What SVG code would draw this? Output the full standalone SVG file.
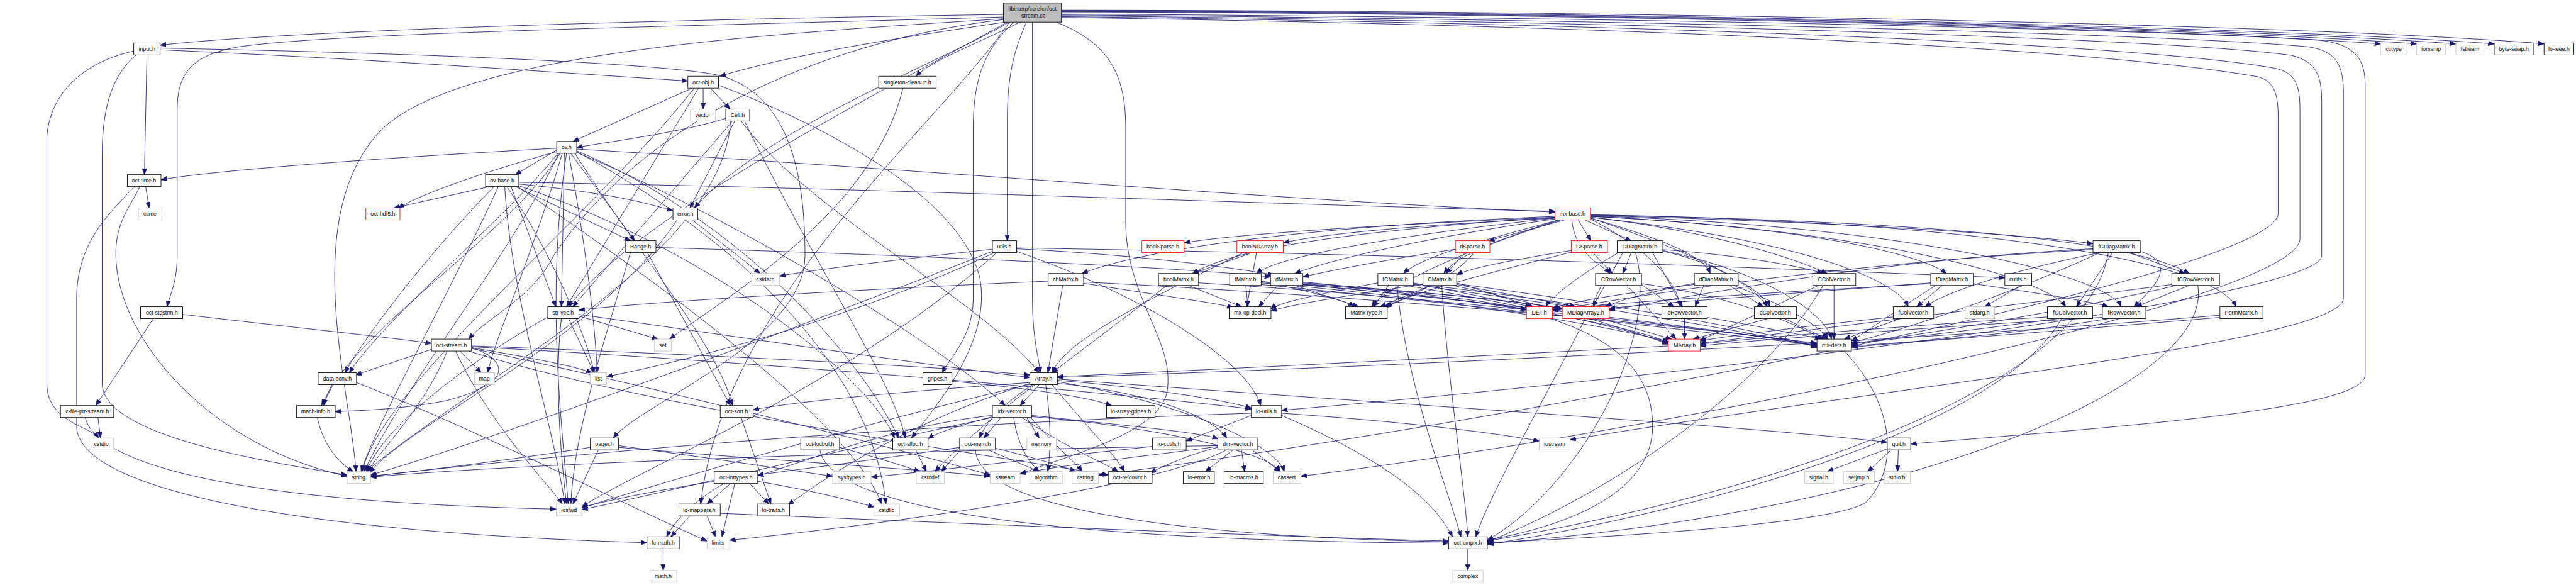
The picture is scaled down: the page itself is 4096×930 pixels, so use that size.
<svg xmlns="http://www.w3.org/2000/svg" width="4096" height="930" viewBox="0 0 4096 930">
<defs>
<marker id="a" markerUnits="userSpaceOnUse" markerWidth="16" markerHeight="12" refX="14" refY="5.5" orient="auto"><path d="M0,0 L14,5.5 L0,11 z" fill="#191970" stroke="#191970"/></marker>
</defs>
<style>
.e path{fill:none;stroke:#191970;stroke-width:1.3;marker-end:url(#a)}
.n rect{fill:#fff;stroke:#000;stroke-width:1.3}
.n.g rect{stroke:#bfbfbf}
.n.r rect{stroke:#ff0000}
.n.top rect{fill:#bfbfbf}
text{font-family:"Liberation Sans",Arial,sans-serif;font-size:13px;text-anchor:middle;fill:#000}
</style>
<rect width="4096" height="930" fill="#fff"/>
<g transform="scale(0.67725)">
<g id="edges" class="e">
<path d="M2356,34 C1600,45 700,70 376,106"/>
<path d="M2356,40 C1700,60 800,75 560,110 C450,130 416,170 416,260 L416,600 C416,660 400,690 392,720"/>
<path d="M2360,52 C2100,90 1850,130 1690,179"/>
<path d="M2395,52 C2300,100 2190,140 2150,179"/>
<path d="M2380,52 C2320,110 2285,170 2285,300 L2285,700 C2285,790 2230,840 2212,875"/>
<path d="M2410,52 C2380,120 2365,180 2365,280 L2365,565"/>
<path d="M2424,52 L2424,700 C2424,800 2440,840 2442,875"/>
<path d="M2480,52 C2600,100 2643,170 2643,300 L2643,520 C2643,700 2760,800 2740,920 C2720,1020 2500,1070 2395,1113"/>
<path d="M2492,28 C3500,30 5000,60 5589,103"/>
<path d="M2492,27 C3500,28 5100,60 5674,103"/>
<path d="M2492,26 C3500,26 5200,60 5766,103"/>
<path d="M2492,25 C3600,25 5300,60 5856,103"/>
<path d="M2492,24 C3700,24 5400,55 5973,103"/>
<path d="M2492,33 C3800,40 5100,70 5450,95 C5530,105 5553,140 5553,200 L5553,880 C5553,960 5000,1000 4486,1042"/>
<path d="M2492,35 C3800,45 5100,80 5420,110 C5490,120 5502,160 5502,220 L5502,700 C5502,800 4500,900 3686,1032"/>
<path d="M2492,37 C3800,50 5100,90 5380,130 C5440,145 5451,180 5451,240 L5451,600 C5451,700 4000,880 3009,963"/>
<path d="M2492,39 C3800,55 5000,100 5340,160 C5390,170 5400,200 5400,260 L5400,560 C5400,700 4000,1000 3054,1118"/>
<path d="M2492,41 C3800,60 4900,110 5300,180 C5340,190 5349,220 5349,280 L5349,500 C5349,650 3500,1000 2579,1115"/>
<path d="M2370,52 C2200,300 1700,700 1645,1183"/>
<path d="M2356,44 C1800,80 1100,120 900,300 C700,500 820,900 836,1107"/>
<path d="M2356,46 C1900,100 1500,300 1300,600 C1250,700 1150,740 1100,796"/>
<path d="M2365,52 C2100,200 1500,500 1335,720"/>
<path d="M2370,52 C2200,150 1800,300 1630,488"/>
<path d="M345,129 L339,410"/>
<path d="M314,120 C220,140 120,200 110,320 L110,900 C110,990 210,1000 232,1028"/>
<path d="M320,129 C270,170 240,240 240,360 L240,900 C240,1020 600,1080 815,1115"/>
<path d="M376,117 C900,140 1300,170 1615,190"/>
<path d="M376,113 C1000,125 1600,150 1700,180 C1850,230 1890,400 1890,600 C1890,800 1500,950 1440,1028"/>
<path d="M342,438 L350,488"/>
<path d="M328,438 C310,480 270,520 272,600 C275,800 500,1050 815,1118"/>
<path d="M315,438 C270,490 180,560 180,700 L180,1000 C180,1150 700,1250 1519,1274"/>
<path d="M1651,207 L1651,256"/>
<path d="M1668,207 L1714,256"/>
<path d="M1625,207 L1345,332"/>
<path d="M1640,207 L1330,720"/>
<path d="M1687,200 C1900,280 2250,450 2300,650 C2330,800 2200,950 2140,1028"/>
<path d="M1630,207 C1400,500 900,900 850,1107"/>
<path d="M2120,207 C2050,500 1700,700 1572,796"/>
<path d="M1704,278 C1600,310 1450,330 1354,346"/>
<path d="M1740,284 C1900,500 2300,700 2440,875"/>
<path d="M1748,284 C1900,600 2100,900 2125,1028"/>
<path d="M1720,284 L1345,720"/>
<path d="M1715,284 C1700,600 1100,900 860,1107"/>
<path d="M1725,284 L1620,488"/>
<path d="M1307,352 L1210,410"/>
<path d="M1307,348 C900,370 500,400 378,422"/>
<path d="M1340,360 L1490,565"/>
<path d="M1310,360 C1200,500 900,750 820,875"/>
<path d="M1354,358 C1700,500 2200,800 2360,952"/>
<path d="M1315,360 C1200,550 800,800 760,952"/>
<path d="M1354,350 C2200,400 3000,470 3651,498"/>
<path d="M1354,354 C1700,500 2000,800 2110,1028"/>
<path d="M1307,356 C1150,400 1000,450 935,488"/>
<path d="M1350,360 C1500,600 1680,800 1720,952"/>
<path d="M1325,360 L1318,720"/>
<path d="M1312,360 C1200,600 950,900 855,1107"/>
<path d="M1335,360 C1380,600 1400,800 1402,875"/>
<path d="M1320,360 C1250,600 1160,800 1145,875"/>
<path d="M1330,360 C1280,700 1320,1000 1334,1183"/>
<path d="M1354,356 C1800,600 2050,900 2080,1183"/>
<path d="M1150,438 L925,488"/>
<path d="M1210,438 L1480,565"/>
<path d="M1160,438 C1000,600 850,800 810,875"/>
<path d="M1218,428 C2000,440 3000,480 3651,496"/>
<path d="M1200,438 L1305,720"/>
<path d="M1218,432 C1400,450 1500,470 1580,495"/>
<path d="M1170,438 C1050,700 880,1000 848,1107"/>
<path d="M1190,438 C1300,600 1380,800 1395,875"/>
<path d="M1185,438 C1200,700 1300,1000 1326,1183"/>
<path d="M1215,438 C1600,700 2000,1000 2070,1183"/>
<path d="M1218,436 C1700,600 2050,900 2100,1028"/>
<path d="M1625,516 L1785,642"/>
<path d="M1590,516 C1400,800 950,1000 868,1110"/>
<path d="M1540,581 C2200,600 2800,630 2983,650"/>
<path d="M1520,593 L1715,952"/>
<path d="M1480,593 C1420,800 1350,1000 1340,1183"/>
<path d="M2330,585 C2100,610 1900,635 1830,648"/>
<path d="M2387,584 C2700,600 2900,630 2990,645"/>
<path d="M2387,590 C2700,700 2930,850 2960,952"/>
<path d="M2387,582 C3500,600 4400,640 4707,652"/>
<path d="M2335,593 C2000,750 1600,850 1424,884"/>
<path d="M2330,590 C1800,800 1100,1050 870,1115"/>
<path d="M2340,593 C2000,900 1500,1100 1366,1190"/>
<path d="M2235,895 C2400,910 2550,930 2610,952"/>
<path d="M3651,510 C3200,530 2900,550 2780,570"/>
<path d="M3651,512 C3300,530 3100,550 3013,570"/>
<path d="M3675,516 L3495,565"/>
<path d="M3705,516 L3735,565"/>
<path d="M3720,516 L3830,565"/>
<path d="M3734,506 C4300,520 4750,550 4914,572"/>
<path d="M3651,508 C3100,530 2700,580 2540,642"/>
<path d="M3651,510 C3200,540 2900,580 2800,642"/>
<path d="M3651,512 C3300,550 3000,600 2950,642"/>
<path d="M3651,514 C3400,550 3150,600 3040,642"/>
<path d="M3660,516 C3500,560 3340,600 3295,642"/>
<path d="M3665,516 C3500,570 3420,600 3390,642"/>
<path d="M3690,516 C3700,600 3760,620 3780,642"/>
<path d="M3734,512 C3900,560 4000,600 4015,642"/>
<path d="M3734,510 C4000,540 4200,600 4290,642"/>
<path d="M3734,508 C4200,530 4500,590 4570,642"/>
<path d="M3734,504 C4500,520 5000,560 5140,642"/>
<path d="M3660,516 C3400,600 3250,680 3220,720"/>
<path d="M3734,514 C3900,600 3940,680 3945,720"/>
<path d="M3734,512 C4000,600 4140,680 4155,720"/>
<path d="M3734,510 C4200,560 4450,650 4480,720"/>
<path d="M3734,508 C4400,540 4800,650 4850,720"/>
<path d="M3734,507 C4500,530 4950,650 4980,720"/>
<path d="M3734,505 C4700,520 5200,620 5250,720"/>
<path d="M2940,593 L2800,642"/>
<path d="M2950,593 C2940,650 2930,700 2928,720"/>
<path d="M2920,593 C2700,700 2500,800 2470,875"/>
<path d="M2495,670 L2460,875"/>
<path d="M2461,660 C2000,680 1500,710 1359,728"/>
<path d="M2544,665 C2700,690 2850,710 2895,722"/>
<path d="M2544,662 C3300,700 4000,770 4266,806"/>
<path d="M2790,670 L2915,720"/>
<path d="M2740,670 L2470,875"/>
<path d="M2814,664 C3400,700 4000,770 4266,808"/>
<path d="M2925,670 L2930,720"/>
<path d="M2961,664 C3400,700 3800,770 3917,802"/>
<path d="M2961,662 C3300,680 3550,705 3668,724"/>
<path d="M2961,660 C3050,680 3150,700 3180,720"/>
<path d="M2961,668 C3500,720 4000,780 4266,810"/>
<path d="M2961,661 C3200,680 3450,705 3584,726"/>
<path d="M3000,670 L2955,720"/>
<path d="M3059,666 C3500,700 3850,770 3917,804"/>
<path d="M3059,664 C3400,690 3600,710 3668,726"/>
<path d="M3040,670 L3190,720"/>
<path d="M3059,668 C3600,720 4100,780 4266,812"/>
<path d="M3059,662 C3300,685 3500,705 3584,728"/>
<path d="M3235,664 C3100,690 3000,710 2984,726"/>
<path d="M3300,670 C3600,720 3850,780 3917,806"/>
<path d="M3318,668 L3690,720"/>
<path d="M3260,670 L3225,720"/>
<path d="M3318,666 C3800,720 4150,790 4266,814"/>
<path d="M3318,664 L3595,720"/>
<path d="M3280,670 C3300,900 3400,1150 3430,1260"/>
<path d="M3341,666 C3200,690 3050,710 2984,730"/>
<path d="M3410,670 C3700,730 3870,790 3917,808"/>
<path d="M3420,668 L3700,720"/>
<path d="M3360,670 L3240,720"/>
<path d="M3420,666 C3900,730 4200,790 4266,816"/>
<path d="M3420,664 L3600,720"/>
<path d="M3385,670 C3400,900 3440,1150 3446,1260"/>
<path d="M3440,593 L3395,642"/>
<path d="M3417,585 C3250,610 3100,640 3059,650"/>
<path d="M3460,593 C3420,650 3300,700 3250,720"/>
<path d="M3689,588 C3550,610 3450,630 3420,645"/>
<path d="M3740,593 L3785,642"/>
<path d="M3689,592 C3500,640 3300,690 3255,722"/>
<path d="M3820,670 L3935,796"/>
<path d="M3854,666 C4100,700 4230,770 4280,796"/>
<path d="M3760,670 C3650,900 3500,1150 3465,1260"/>
<path d="M3854,668 L3930,720"/>
<path d="M3830,593 L3810,642"/>
<path d="M3810,593 C3780,650 3750,700 3740,720"/>
<path d="M3880,593 L3950,720"/>
<path d="M3904,590 C4050,620 4130,690 4150,720"/>
<path d="M3904,586 C4100,600 4250,630 4280,642"/>
<path d="M3904,588 C4150,640 4290,740 4300,796"/>
<path d="M3800,593 C3700,650 3640,700 3630,720"/>
<path d="M3840,593 C3900,800 3700,1150 3492,1268"/>
<path d="M3978,665 C3850,690 3790,710 3770,720"/>
<path d="M4000,670 L3980,720"/>
<path d="M4060,670 L4140,720"/>
<path d="M4070,670 C4200,720 4280,770 4290,796"/>
<path d="M3978,668 C3800,690 3680,710 3645,724"/>
<path d="M4270,670 L3990,800"/>
<path d="M4306,670 L4306,796"/>
<path d="M4280,670 C4150,900 3800,1150 3492,1272"/>
<path d="M4533,664 C4200,690 3900,710 3778,724"/>
<path d="M4633,666 C4800,690 4920,710 4950,720"/>
<path d="M4560,670 L4500,720"/>
<path d="M4545,670 C4450,730 4380,780 4347,800"/>
<path d="M4533,666 C4100,690 3800,710 3645,728"/>
<path d="M4745,670 L4660,720"/>
<path d="M5140,670 L5015,720"/>
<path d="M5099,668 C4700,720 4200,780 3992,806"/>
<path d="M5110,670 C4900,720 4500,790 4347,806"/>
<path d="M5160,670 C5200,900 4500,1200 3492,1276"/>
<path d="M5000,593 L5130,642"/>
<path d="M5025,590 C5120,620 5050,680 5010,720"/>
<path d="M4960,593 L4875,720"/>
<path d="M4930,593 C4700,640 4560,690 4520,720"/>
<path d="M4914,584 C4400,610 3950,700 3778,728"/>
<path d="M4930,593 C4700,700 4450,780 4347,804"/>
<path d="M4914,586 C4300,620 3800,700 3645,730"/>
<path d="M4950,593 C4900,900 4200,1150 3492,1270"/>
<path d="M3955,748 L3955,796"/>
<path d="M4008,745 C4150,770 4250,790 4275,796"/>
<path d="M4150,748 L3975,796"/>
<path d="M4190,748 L4290,796"/>
<path d="M4445,744 C4200,770 4050,790 3992,800"/>
<path d="M4460,748 L4330,796"/>
<path d="M4807,744 C4400,770 4100,795 3992,808"/>
<path d="M4830,748 C4600,780 4400,800 4347,808"/>
<path d="M4840,748 C4700,1000 4000,1200 3492,1278"/>
<path d="M4936,745 C4500,770 4100,800 3992,812"/>
<path d="M4950,748 C4700,790 4450,805 4347,812"/>
<path d="M5212,740 C4500,800 3300,860 2483,886"/>
<path d="M5212,745 C4800,780 4450,805 4347,815"/>
<path d="M3917,812 C3400,840 2800,870 2483,884"/>
<path d="M3760,748 L3925,796"/>
<path d="M3640,748 C3800,800 3880,880 3880,1000 C3880,1150 3700,1230 3492,1268"/>
<path d="M4330,824 C4450,950 4460,1100 4380,1180 C4300,1230 3800,1260 3492,1274"/>
<path d="M1318,748 C1300,900 1320,1100 1330,1183"/>
<path d="M1335,748 L1395,875"/>
<path d="M1359,742 L1545,796"/>
<path d="M1286,744 C1100,850 900,1000 860,1107"/>
<path d="M1359,738 C1800,800 2200,860 2418,886"/>
<path d="M429,738 C700,770 900,790 1013,806"/>
<path d="M360,748 L225,952"/>
<path d="M230,980 L236,1028"/>
<path d="M200,980 C230,1100 600,1180 1306,1195"/>
<path d="M1013,820 L835,880"/>
<path d="M1107,815 C1200,850 1200,900 1050,940 C950,960 850,964 787,966"/>
<path d="M1080,824 L1130,875"/>
<path d="M1050,824 C1000,950 900,1050 862,1107"/>
<path d="M1070,824 C1150,1000 1300,1150 1320,1183"/>
<path d="M1107,818 C1500,900 2100,1050 2325,1115"/>
<path d="M1107,812 C1600,830 2200,860 2418,880"/>
<path d="M1107,814 C1800,850 2600,920 2938,960"/>
<path d="M1100,824 C1500,950 2200,1050 2602,1115"/>
<path d="M1107,816 C1250,840 1350,860 1390,875"/>
<path d="M780,903 L755,952"/>
<path d="M837,898 C1100,1000 1500,1200 1660,1270"/>
<path d="M745,980 C760,1050 800,1090 830,1107"/>
<path d="M2440,903 L2395,952"/>
<path d="M2483,900 C2700,920 2850,980 2880,1028"/>
<path d="M2425,903 C2350,950 2310,1000 2300,1028"/>
<path d="M2418,898 C2100,920 1850,945 1768,962"/>
<path d="M2483,893 C2700,910 2880,940 2938,958"/>
<path d="M2483,890 C3300,950 4100,1000 4431,1038"/>
<path d="M2470,903 C2550,1000 2620,1070 2640,1107"/>
<path d="M2418,900 C2100,1000 1900,1150 1850,1185"/>
<path d="M2483,896 C2800,950 3000,1050 3015,1107"/>
<path d="M2430,903 C2300,1000 2220,1080 2195,1107"/>
<path d="M2455,903 C2470,1000 2465,1070 2460,1107"/>
<path d="M2418,902 C2000,1000 1500,1150 1366,1192"/>
<path d="M2350,980 L2310,1028"/>
<path d="M2410,980 L2440,1028"/>
<path d="M2422,975 C2650,1000 2820,1015 2860,1030"/>
<path d="M2330,975 C2100,1000 1900,1080 1779,1117"/>
<path d="M2330,978 C2250,1000 2200,1015 2179,1030"/>
<path d="M2400,980 C2500,1050 2600,1090 2625,1107"/>
<path d="M2380,980 C2390,1050 2420,1090 2440,1107"/>
<path d="M2420,980 C2480,1050 2530,1090 2540,1107"/>
<path d="M2422,978 C2700,1000 2980,1060 3005,1107"/>
<path d="M2330,980 C2000,1050 1500,1170 1366,1196"/>
<path d="M1740,980 L1810,1183"/>
<path d="M2938,975 L2785,1035"/>
<path d="M3009,970 C3300,990 3500,1015 3614,1035"/>
<path d="M3009,975 C3300,1100 3380,1200 3410,1260"/>
<path d="M2938,970 C2000,1000 1200,1080 870,1118"/>
<path d="M2706,1048 C2400,1080 2150,1110 2045,1120"/>
<path d="M2255,1056 L2210,1107"/>
<path d="M2337,1052 C2450,1080 2510,1100 2525,1107"/>
<path d="M2320,1056 L2440,1107"/>
<path d="M2253,1050 C2050,1080 1850,1105 1779,1115"/>
<path d="M2290,1056 C2300,1200 2800,1260 3401,1272"/>
<path d="M2895,1056 L2830,1107"/>
<path d="M2915,1056 L2922,1107"/>
<path d="M2940,1056 L3005,1107"/>
<path d="M2859,1050 C2780,1070 2720,1100 2700,1110"/>
<path d="M2859,1048 C2700,1070 2500,1090 2395,1112"/>
<path d="M2859,1046 C2000,1060 1200,1090 870,1120"/>
<path d="M2880,1056 C2700,1150 2000,1240 1713,1268"/>
<path d="M2150,1056 L2175,1107"/>
<path d="M1971,1050 C2080,1080 2140,1100 2160,1107"/>
<path d="M1925,1056 C1950,1200 2500,1270 3401,1275"/>
<path d="M1405,1056 L1345,1183"/>
<path d="M1452,1050 C1800,1080 2200,1105 2325,1118"/>
<path d="M1386,1050 C1200,1080 950,1110 870,1118"/>
<path d="M1452,1046 C1700,1080 1900,1110 1955,1118"/>
<path d="M1779,1130 C1900,1150 2000,1175 2052,1190"/>
<path d="M1725,1135 L1695,1260"/>
<path d="M1677,1130 C1550,1150 1420,1175 1366,1192"/>
<path d="M1760,1135 L1805,1183"/>
<path d="M1700,1135 C1620,1180 1580,1230 1565,1260"/>
<path d="M1715,1135 L1660,1183"/>
<path d="M1660,1211 L1680,1260"/>
<path d="M1620,1211 L1575,1260"/>
<path d="M1691,1205 C2300,1230 3000,1260 3401,1270"/>
<path d="M1557,1288 L1557,1339"/>
<path d="M3446,1288 L3446,1339"/>
<path d="M4435,1052 L4290,1107"/>
<path d="M4440,1056 L4385,1107"/>
<path d="M4457,1056 L4455,1107"/>
</g>
<g id="node-top" class="n top"><rect x="2356" y="7" width="136" height="45"/><text x="2424" y="25">libinterp/corefcn/oct</text><text x="2424" y="42">-stream.cc</text></g>
<g id="node-input" class="n"><rect x="314" y="101" width="62" height="28"/><text x="345" y="119.5">input.h</text></g>
<g id="node-cctype" class="n g"><rect x="5589" y="101" width="62" height="28"/><text x="5620" y="119.5">cctype</text></g>
<g id="node-iomanip" class="n g"><rect x="5674" y="101" width="68" height="28"/><text x="5708" y="119.5">iomanip</text></g>
<g id="node-fstream" class="n g"><rect x="5766" y="101" width="66" height="28"/><text x="5799" y="119.5">fstream</text></g>
<g id="node-byteswap" class="n"><rect x="5856" y="101" width="93" height="28"/><text x="5902" y="119.5">byte-swap.h</text></g>
<g id="node-loieee" class="n"><rect x="5973" y="101" width="70" height="28"/><text x="6008" y="119.5">lo-ieee.h</text></g>
<g id="node-octobj" class="n"><rect x="1615" y="179" width="72" height="28"/><text x="1651" y="197.5">oct-obj.h</text></g>
<g id="node-singleton" class="n"><rect x="2063" y="179" width="135" height="28"/><text x="2130" y="197.5">singleton-cleanup.h</text></g>
<g id="node-vector" class="n g"><rect x="1621" y="256" width="59" height="28"/><text x="1650" y="274.5">vector</text></g>
<g id="node-cell" class="n"><rect x="1704" y="256" width="56" height="28"/><text x="1732" y="274.5">Cell.h</text></g>
<g id="node-ov" class="n"><rect x="1307" y="332" width="47" height="28"/><text x="1330" y="350.5">ov.h</text></g>
<g id="node-octtime" class="n"><rect x="299" y="410" width="79" height="28"/><text x="338" y="428.5">oct-time.h</text></g>
<g id="node-ovbase" class="n"><rect x="1140" y="410" width="78" height="28"/><text x="1179" y="428.5">ov-base.h</text></g>
<g id="node-ctime" class="n g"><rect x="325" y="488" width="55" height="28"/><text x="352" y="506.5">ctime</text></g>
<g id="node-hdf5" class="n r"><rect x="859" y="488" width="80" height="28"/><text x="899" y="506.5">oct-hdf5.h</text></g>
<g id="node-error" class="n"><rect x="1580" y="488" width="58" height="28"/><text x="1609" y="506.5">error.h</text></g>
<g id="node-mxbase" class="n r"><rect x="3651" y="488" width="83" height="28"/><text x="3692" y="506.5">mx-base.h</text></g>
<g id="node-range" class="n"><rect x="1469" y="565" width="71" height="28"/><text x="1504" y="583.5">Range.h</text></g>
<g id="node-utils" class="n"><rect x="2330" y="565" width="57" height="28"/><text x="2358" y="583.5">utils.h</text></g>
<g id="node-boolsparse" class="n r"><rect x="2681" y="565" width="99" height="28"/><text x="2730" y="583.5">boolSparse.h</text></g>
<g id="node-boolnd" class="n r"><rect x="2904" y="565" width="109" height="28"/><text x="2958" y="583.5">boolNDArray.h</text></g>
<g id="node-dsparse" class="n r"><rect x="3417" y="565" width="81" height="28"/><text x="3457" y="583.5">dSparse.h</text></g>
<g id="node-csparse" class="n r"><rect x="3689" y="565" width="85" height="28"/><text x="3731" y="583.5">CSparse.h</text></g>
<g id="node-cdiag" class="n"><rect x="3797" y="565" width="107" height="28"/><text x="3850" y="583.5">CDiagMatrix.h</text></g>
<g id="node-fcdiag" class="n"><rect x="4914" y="565" width="111" height="28"/><text x="4969" y="583.5">fCDiagMatrix.h</text></g>
<g id="node-cstdarg" class="n g"><rect x="1765" y="642" width="65" height="28"/><text x="1797" y="660.5">cstdarg</text></g>
<g id="node-chm" class="n"><rect x="2461" y="642" width="83" height="28"/><text x="2502" y="660.5">chMatrix.h</text></g>
<g id="node-boolm" class="n"><rect x="2720" y="642" width="94" height="28"/><text x="2767" y="660.5">boolMatrix.h</text></g>
<g id="node-fm" class="n"><rect x="2887" y="642" width="74" height="28"/><text x="2924" y="660.5">fMatrix.h</text></g>
<g id="node-dm" class="n"><rect x="2983" y="642" width="76" height="28"/><text x="3021" y="660.5">dMatrix.h</text></g>
<g id="node-fcm" class="n"><rect x="3235" y="642" width="83" height="28"/><text x="3276" y="660.5">fCMatrix.h</text></g>
<g id="node-cm" class="n"><rect x="3341" y="642" width="79" height="28"/><text x="3380" y="660.5">CMatrix.h</text></g>
<g id="node-crow" class="n"><rect x="3746" y="642" width="108" height="28"/><text x="3800" y="660.5">CRowVector.h</text></g>
<g id="node-ddiag" class="n"><rect x="3978" y="642" width="103" height="28"/><text x="4029" y="660.5">dDiagMatrix.h</text></g>
<g id="node-ccol" class="n"><rect x="4256" y="642" width="101" height="28"/><text x="4306" y="660.5">CColVector.h</text></g>
<g id="node-fdiag" class="n"><rect x="4533" y="642" width="100" height="28"/><text x="4583" y="660.5">fDiagMatrix.h</text></g>
<g id="node-cutils" class="n"><rect x="4707" y="642" width="63" height="28"/><text x="4738" y="660.5">cutils.h</text></g>
<g id="node-fcrow" class="n"><rect x="5099" y="642" width="112" height="28"/><text x="5155" y="660.5">fCRowVector.h</text></g>
<g id="node-stdstrm" class="n"><rect x="330" y="720" width="99" height="28"/><text x="380" y="738.5">oct-stdstrm.h</text></g>
<g id="node-strvec" class="n"><rect x="1286" y="720" width="73" height="28"/><text x="1322" y="738.5">str-vec.h</text></g>
<g id="node-mxop" class="n"><rect x="2886" y="720" width="98" height="28"/><text x="2935" y="738.5">mx-op-decl.h</text></g>
<g id="node-mtype" class="n"><rect x="3159" y="720" width="98" height="28"/><text x="3208" y="738.5">MatrixType.h</text></g>
<g id="node-det" class="n r"><rect x="3584" y="720" width="61" height="28"/><text x="3614" y="738.5">DET.h</text></g>
<g id="node-mdiag" class="n r"><rect x="3668" y="720" width="110" height="28"/><text x="3723" y="738.5">MDiagArray2.h</text></g>
<g id="node-drow" class="n"><rect x="3902" y="720" width="106" height="28"/><text x="3955" y="738.5">dRowVector.h</text></g>
<g id="node-dcol" class="n"><rect x="4119" y="720" width="99" height="28"/><text x="4168" y="738.5">dColVector.h</text></g>
<g id="node-fcol" class="n"><rect x="4445" y="720" width="95" height="28"/><text x="4492" y="738.5">fColVector.h</text></g>
<g id="node-stdargh" class="n g"><rect x="4614" y="720" width="69" height="28"/><text x="4648" y="738.5">stdarg.h</text></g>
<g id="node-fccol" class="n"><rect x="4807" y="720" width="106" height="28"/><text x="4860" y="738.5">fCColVector.h</text></g>
<g id="node-frow" class="n"><rect x="4936" y="720" width="102" height="28"/><text x="4987" y="738.5">fRowVector.h</text></g>
<g id="node-perm" class="n"><rect x="5212" y="720" width="101" height="28"/><text x="5262" y="738.5">PermMatrix.h</text></g>
<g id="node-stream" class="n"><rect x="1013" y="796" width="94" height="28"/><text x="1060" y="814.5">oct-stream.h</text></g>
<g id="node-set" class="n g"><rect x="1536" y="796" width="40" height="28"/><text x="1556" y="814.5">set</text></g>
<g id="node-marray" class="n r"><rect x="3917" y="796" width="75" height="28"/><text x="3955" y="814.5">MArray.h</text></g>
<g id="node-mxdefs" class="n"><rect x="4266" y="796" width="81" height="28"/><text x="4306" y="814.5">mx-defs.h</text></g>
<g id="node-dataconv" class="n"><rect x="747" y="875" width="90" height="28"/><text x="792" y="893.5">data-conv.h</text></g>
<g id="node-map" class="n g"><rect x="1114" y="875" width="47" height="28"/><text x="1137" y="893.5">map</text></g>
<g id="node-list" class="n g"><rect x="1386" y="875" width="38" height="28"/><text x="1405" y="893.5">list</text></g>
<g id="node-gripes" class="n"><rect x="2167" y="875" width="68" height="28"/><text x="2201" y="893.5">gripes.h</text></g>
<g id="node-array" class="n"><rect x="2418" y="875" width="65" height="28"/><text x="2450" y="893.5">Array.h</text></g>
<g id="node-cfile" class="n"><rect x="142" y="952" width="125" height="28"/><text x="205" y="970.5">c-file-ptr-stream.h</text></g>
<g id="node-machinfo" class="n"><rect x="696" y="952" width="91" height="28"/><text x="741" y="970.5">mach-info.h</text></g>
<g id="node-octsort" class="n"><rect x="1691" y="952" width="77" height="28"/><text x="1729" y="970.5">oct-sort.h</text></g>
<g id="node-idx" class="n"><rect x="2330" y="952" width="92" height="28"/><text x="2376" y="970.5">idx-vector.h</text></g>
<g id="node-lag" class="n"><rect x="2598" y="952" width="114" height="28"/><text x="2655" y="970.5">lo-array-gripes.h</text></g>
<g id="node-loutils" class="n"><rect x="2938" y="952" width="71" height="28"/><text x="2973" y="970.5">lo-utils.h</text></g>
<g id="node-cstdio" class="n g"><rect x="209" y="1028" width="58" height="28"/><text x="238" y="1046.5">cstdio</text></g>
<g id="node-pager" class="n"><rect x="1386" y="1028" width="66" height="28"/><text x="1419" y="1046.5">pager.h</text></g>
<g id="node-locbuf" class="n"><rect x="1880" y="1028" width="91" height="28"/><text x="1925" y="1046.5">oct-locbuf.h</text></g>
<g id="node-alloc" class="n"><rect x="2096" y="1028" width="83" height="28"/><text x="2137" y="1046.5">oct-alloc.h</text></g>
<g id="node-mem" class="n"><rect x="2253" y="1028" width="84" height="28"/><text x="2295" y="1046.5">oct-mem.h</text></g>
<g id="node-memory" class="n g"><rect x="2411" y="1028" width="69" height="28"/><text x="2445" y="1046.5">memory</text></g>
<g id="node-locutils" class="n"><rect x="2706" y="1028" width="79" height="28"/><text x="2745" y="1046.5">lo-cutils.h</text></g>
<g id="node-dimv" class="n"><rect x="2859" y="1028" width="94" height="28"/><text x="2906" y="1046.5">dim-vector.h</text></g>
<g id="node-iostream" class="n g"><rect x="3614" y="1028" width="72" height="28"/><text x="3650" y="1046.5">iostream</text></g>
<g id="node-quit" class="n"><rect x="4431" y="1028" width="55" height="28"/><text x="4458" y="1046.5">quit.h</text></g>
<g id="node-string" class="n g"><rect x="815" y="1107" width="55" height="28"/><text x="842" y="1125.5">string</text></g>
<g id="node-inttypes" class="n"><rect x="1677" y="1107" width="102" height="28"/><text x="1728" y="1125.5">oct-inttypes.h</text></g>
<g id="node-systypes" class="n g"><rect x="1955" y="1107" width="90" height="28"/><text x="2000" y="1125.5">sys/types.h</text></g>
<g id="node-cstddef" class="n g"><rect x="2151" y="1107" width="66" height="28"/><text x="2184" y="1125.5">cstddef</text></g>
<g id="node-sstream" class="n g"><rect x="2325" y="1107" width="70" height="28"/><text x="2360" y="1125.5">sstream</text></g>
<g id="node-algorithm" class="n g"><rect x="2418" y="1107" width="76" height="28"/><text x="2456" y="1125.5">algorithm</text></g>
<g id="node-cstring" class="n g"><rect x="2517" y="1107" width="62" height="28"/><text x="2548" y="1125.5">cstring</text></g>
<g id="node-refcount" class="n"><rect x="2602" y="1107" width="103" height="28"/><text x="2653" y="1125.5">oct-refcount.h</text></g>
<g id="node-loerror" class="n"><rect x="2778" y="1107" width="73" height="28"/><text x="2815" y="1125.5">lo-error.h</text></g>
<g id="node-lomacros" class="n"><rect x="2874" y="1107" width="92" height="28"/><text x="2920" y="1125.5">lo-macros.h</text></g>
<g id="node-cassert" class="n g"><rect x="2989" y="1107" width="65" height="28"/><text x="3021" y="1125.5">cassert</text></g>
<g id="node-signal" class="n g"><rect x="4237" y="1107" width="67" height="28"/><text x="4270" y="1125.5">signal.h</text></g>
<g id="node-setjmp" class="n g"><rect x="4328" y="1107" width="73" height="28"/><text x="4364" y="1125.5">setjmp.h</text></g>
<g id="node-stdio" class="n g"><rect x="4424" y="1107" width="61" height="28"/><text x="4454" y="1125.5">stdio.h</text></g>
<g id="node-iosfwd" class="n g"><rect x="1306" y="1183" width="60" height="28"/><text x="1336" y="1201.5">iosfwd</text></g>
<g id="node-mappers" class="n"><rect x="1594" y="1183" width="97" height="28"/><text x="1642" y="1201.5">lo-mappers.h</text></g>
<g id="node-traits" class="n"><rect x="1778" y="1183" width="76" height="28"/><text x="1816" y="1201.5">lo-traits.h</text></g>
<g id="node-cstdlib" class="n g"><rect x="2052" y="1183" width="60" height="28"/><text x="2082" y="1201.5">cstdlib</text></g>
<g id="node-lomath" class="n"><rect x="1519" y="1260" width="77" height="28"/><text x="1557" y="1278.5">lo-math.h</text></g>
<g id="node-limits" class="n g"><rect x="1660" y="1260" width="53" height="28"/><text x="1686" y="1278.5">limits</text></g>
<g id="node-cmplx" class="n"><rect x="3401" y="1260" width="91" height="28"/><text x="3446" y="1278.5">oct-cmplx.h</text></g>
<g id="node-mathh" class="n g"><rect x="1526" y="1339" width="63" height="28"/><text x="1557" y="1357.5">math.h</text></g>
<g id="node-complex" class="n g"><rect x="3411" y="1339" width="71" height="28"/><text x="3446" y="1357.5">complex</text></g>
</g>
</svg>
